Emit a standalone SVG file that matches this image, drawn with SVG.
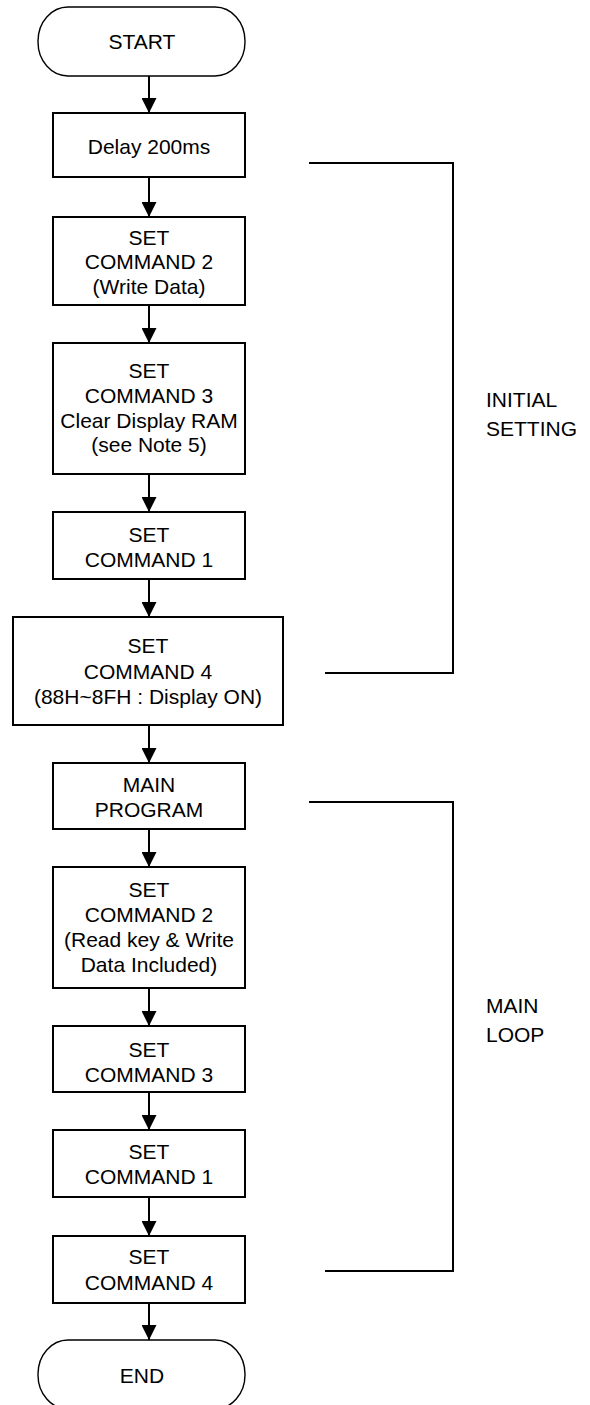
<svg xmlns="http://www.w3.org/2000/svg" width="590" height="1405" viewBox="0 0 590 1405">
<style>
  .box{fill:#fff;stroke:#000;stroke-width:2}
  .term{fill:#fff;stroke:#000;stroke-width:1.4}
  .t{font-family:"Liberation Sans",Arial,sans-serif;font-size:21px;fill:#000;text-anchor:middle}
  .l{font-family:"Liberation Sans",Arial,sans-serif;font-size:21px;fill:#000}
  .c{fill:none;stroke:#000;stroke-width:2}
</style>
<defs>
  <marker id="ah" viewBox="0 0 16 16" refX="16" refY="8" markerWidth="15" markerHeight="15" markerUnits="userSpaceOnUse" orient="auto">
    <path d="M0,0 L16,8 L0,16 z" fill="#000"/>
  </marker>
</defs>
<rect width="590" height="1405" fill="#fff"/>

<g id="connectors">
  <line class="c" x1="149" y1="76" x2="149" y2="113" marker-end="url(#ah)"/>
  <line class="c" x1="149" y1="177" x2="149" y2="217" marker-end="url(#ah)"/>
  <line class="c" x1="149" y1="305" x2="149" y2="343" marker-end="url(#ah)"/>
  <line class="c" x1="149" y1="474" x2="149" y2="512" marker-end="url(#ah)"/>
  <line class="c" x1="149" y1="579" x2="149" y2="617" marker-end="url(#ah)"/>
  <line class="c" x1="149" y1="725" x2="149" y2="763" marker-end="url(#ah)"/>
  <line class="c" x1="149" y1="829" x2="149" y2="867" marker-end="url(#ah)"/>
  <line class="c" x1="149" y1="988" x2="149" y2="1026" marker-end="url(#ah)"/>
  <line class="c" x1="149" y1="1092" x2="149" y2="1130" marker-end="url(#ah)"/>
  <line class="c" x1="149" y1="1197" x2="149" y2="1236" marker-end="url(#ah)"/>
  <line class="c" x1="149" y1="1303" x2="149" y2="1340" marker-end="url(#ah)"/>
</g>

<g id="start">
  <rect class="term" x="38" y="7" width="207" height="69" rx="30" ry="34"/>
  <text class="t" x="142" y="49">START</text>
</g>
<g id="delay">
  <rect class="box" x="53" y="113" width="192" height="64"/>
  <text class="t" x="149" y="154">Delay 200ms</text>
</g>
<g id="cmd2a">
  <rect class="box" x="53" y="217" width="192" height="88"/>
  <text class="t" x="149" y="245">SET</text>
  <text class="t" x="149" y="269">COMMAND 2</text>
  <text class="t" x="149" y="294">(Write Data)</text>
</g>
<g id="cmd3a">
  <rect class="box" x="53" y="343" width="192" height="131"/>
  <text class="t" x="149" y="378">SET</text>
  <text class="t" x="149" y="403">COMMAND 3</text>
  <text class="t" x="149" y="428">Clear Display RAM</text>
  <text class="t" x="149" y="452">(see Note 5)</text>
</g>
<g id="cmd1a">
  <rect class="box" x="53" y="512" width="192" height="67"/>
  <text class="t" x="149" y="542">SET</text>
  <text class="t" x="149" y="567">COMMAND 1</text>
</g>
<g id="cmd4a">
  <rect class="box" x="13" y="617" width="270" height="108"/>
  <text class="t" x="148" y="653">SET</text>
  <text class="t" x="148" y="679">COMMAND 4</text>
  <text class="t" x="148" y="704">(88H~8FH : Display ON)</text>
</g>
<g id="main">
  <rect class="box" x="53" y="763" width="192" height="66"/>
  <text class="t" x="149" y="792">MAIN</text>
  <text class="t" x="149" y="817">PROGRAM</text>
</g>
<g id="cmd2b">
  <rect class="box" x="53" y="867" width="192" height="121"/>
  <text class="t" x="149" y="897">SET</text>
  <text class="t" x="149" y="922">COMMAND 2</text>
  <text class="t" x="149" y="947">(Read key &amp; Write</text>
  <text class="t" x="149" y="972">Data Included)</text>
</g>
<g id="cmd3b">
  <rect class="box" x="53" y="1026" width="192" height="66"/>
  <text class="t" x="149" y="1057">SET</text>
  <text class="t" x="149" y="1082">COMMAND 3</text>
</g>
<g id="cmd1b">
  <rect class="box" x="53" y="1130" width="192" height="67"/>
  <text class="t" x="149" y="1159">SET</text>
  <text class="t" x="149" y="1184">COMMAND 1</text>
</g>
<g id="cmd4b">
  <rect class="box" x="53" y="1236" width="192" height="67"/>
  <text class="t" x="149" y="1264">SET</text>
  <text class="t" x="149" y="1290">COMMAND 4</text>
</g>
<g id="end">
  <rect class="term" x="38" y="1340" width="207" height="69" rx="30" ry="34"/>
  <text class="t" x="142" y="1383">END</text>
</g>

<g id="bracket-initial">
  <polyline class="c" points="309,163 453,163 453,673 325,673"/>
  <text class="l" x="486" y="407">INITIAL</text>
  <text class="l" x="486" y="436">SETTING</text>
</g>
<g id="bracket-main">
  <polyline class="c" points="309,802 453,802 453,1271 325,1271"/>
  <text class="l" x="486" y="1013">MAIN</text>
  <text class="l" x="486" y="1042">LOOP</text>
</g>
</svg>
